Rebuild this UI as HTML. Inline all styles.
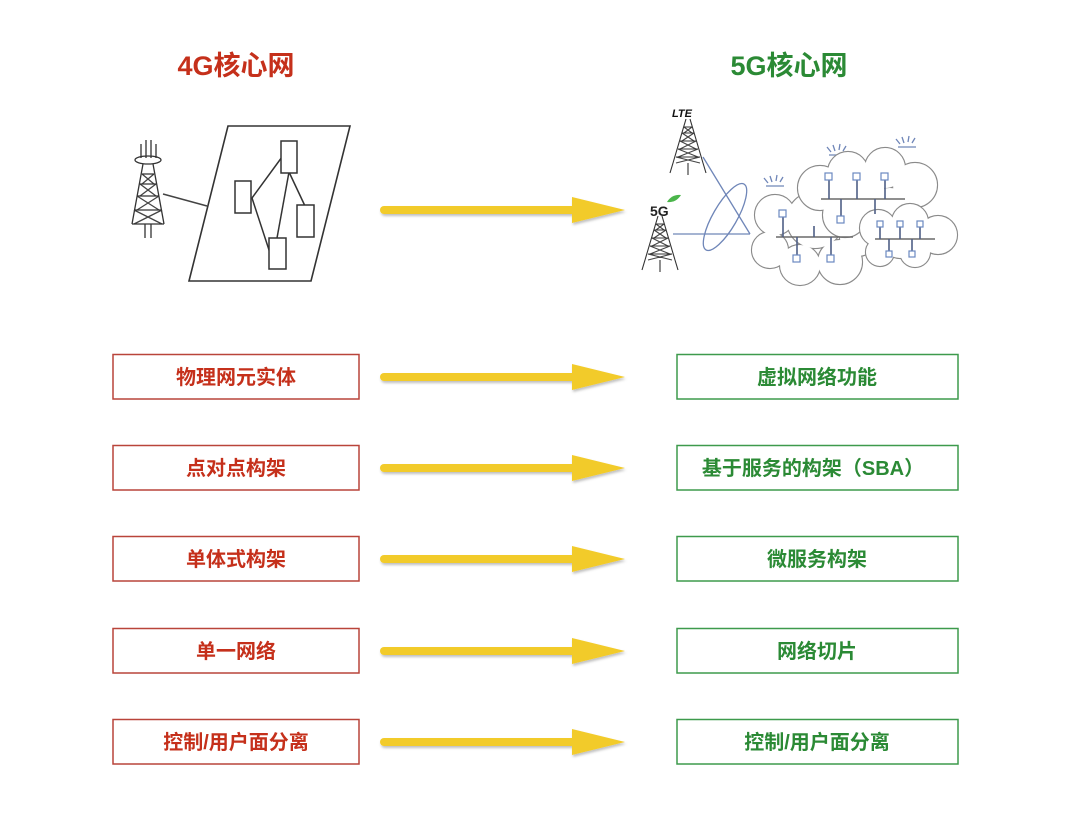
<!DOCTYPE html>
<html><head><meta charset="utf-8"><style>
html,body{margin:0;padding:0;background:#fff;}
svg{display:block;}
.t{font-family:"Liberation Sans","Noto Sans CJK SC",sans-serif;font-weight:bold;}
</style></head><body>
<svg width="1080" height="832" viewBox="0 0 1080 832" xmlns="http://www.w3.org/2000/svg">
<defs>
  <filter id="sh" x="-5%" y="-30%" width="110%" height="160%"><feDropShadow dx="1" dy="2" stdDeviation="1.2" flood-color="#000" flood-opacity="0.25"/></filter>
  <g id="arrow" filter="url(#sh)">
    <rect x="380" y="-4" width="196" height="8" rx="4" fill="#f2cb2c"/>
    <polygon points="572,-13 625,0 572,13" fill="#f2cb2c"/>
  </g>
  <g id="tower" stroke="#333" fill="none" stroke-width="1.3">
    <line x1="-7" y1="-22" x2="-7" y2="-8"/><line x1="-2" y1="-26" x2="-2" y2="-8"/><line x1="3" y1="-26" x2="3" y2="-8"/><line x1="8" y1="-22" x2="8" y2="-8"/>
    <ellipse cx="0" cy="-6" rx="13" ry="4"/>
    <path d="M-5,-2 L-16,58 M5,-2 L16,58 M-3,58 L-3,72 M3,58 L3,72"/>
    <path d="M-6,8 L6,18 M6,8 L-6,18 M-8,18 L8,30 M8,18 L-8,30 M-11,30 L11,44 M11,30 L-11,44 M-14,44 L14,58 M14,44 L-14,58" stroke="#444"/>
    <path d="M-6,8 H6 M-8,18 H8 M-11,30 H11 M-14,44 H14 M-16,58 H16"/>
  </g>
  <g id="tower2" stroke="#333" fill="none" stroke-width="1.1">
    <path d="M-2,0 L-15,44 M2,0 L15,44 M-15,44 L-18,54 M15,44 L18,54 M0,44 L0,56"/>
    <path d="M-4,8 L4,14 M4,8 L-4,14 M-6,14 L6,22 M6,14 L-6,22 M-8,22 L8,30 M8,22 L-8,30 M-10,30 L10,38 M10,30 L-10,38 M-12,38 L12,44 M12,38 L-12,44" stroke="#444"/>
    <path d="M-4,8 H4 M-6,14 H6 M-8,22 H8 M-10,30 H10 M-12,38 H12"/>
  </g>
</defs>

<text class="t" x="236" y="75" font-size="27" fill="#c5301b" text-anchor="middle">4G核心网</text>
<text class="t" x="789" y="75" font-size="27" fill="#2b8a35" text-anchor="middle">5G核心网</text>

<!-- 4G illustration -->
<use href="#tower" transform="translate(148,166)"/>
<line x1="163" y1="194" x2="207" y2="206" stroke="#444" stroke-width="1.5"/>
<polygon points="228,126 350,126 311,281 189,281" fill="none" stroke="#333" stroke-width="1.6"/>
<g stroke="#333" stroke-width="1.5" fill="#fff">
  <line x1="252" y1="198" x2="282" y2="157"/><line x1="252" y1="198" x2="270" y2="253"/>
  <line x1="289" y1="172" x2="277" y2="238"/><line x1="289" y1="172" x2="305" y2="206"/>
  <rect x="281" y="141" width="16" height="32"/>
  <rect x="235" y="181" width="16" height="32"/>
  <rect x="297" y="205" width="17" height="32"/>
  <rect x="269" y="238" width="17" height="31"/>
</g>

<!-- arrows -->
<use href="#arrow" transform="translate(0,210)"/>
<use href="#arrow" transform="translate(0,377)"/>
<use href="#arrow" transform="translate(0,468)"/>
<use href="#arrow" transform="translate(0,559)"/>
<use href="#arrow" transform="translate(0,651)"/>
<use href="#arrow" transform="translate(0,742)"/>

<!-- 5G illustration -->
<g stroke="#6f86b8" stroke-width="1.3" fill="none">
  <line x1="703" y1="157" x2="750" y2="234"/>
  <line x1="673" y1="234" x2="750" y2="234"/>
  <ellipse cx="725" cy="217" rx="12" ry="38" transform="rotate(30 725 217)"/>
  <path d="M768,183 l-4,-5 M772,182 l-2,-6 M776,181 l1,-6 M780,182 l3,-5 M766,186 h18"/>
  <path d="M831,152 l-4,-5 M835,151 l-2,-6 M839,150 l1,-6 M843,151 l3,-5 M829,155 h18"/>
  <path d="M900,144 l-4,-5 M904,143 l-2,-6 M908,142 l1,-6 M912,143 l3,-5 M898,147 h18"/>
</g>
<text x="672" y="117" font-family="Liberation Sans,sans-serif" font-weight="bold" font-style="italic" font-size="11" fill="#111">LTE</text>
<use href="#tower2" transform="translate(688,119)"/>
<text x="650" y="216" font-family="Liberation Sans,sans-serif" font-weight="bold" font-size="14" fill="#222">5G</text>
<path d="M667,202 q5,-8 14,-7 q-5,8 -14,7z" fill="#4bb54b"/>
<use href="#tower2" transform="translate(660,216)"/>
<!-- clouds -->
<g>
  <g fill="none" stroke="#8a8a8a" stroke-width="2.2">
    <circle cx="775" cy="215" r="20"/><circle cx="770" cy="250" r="18"/><circle cx="800" cy="265" r="20"/><circle cx="840" cy="262" r="22"/><circle cx="815" cy="220" r="28"/><circle cx="858" cy="238" r="18"/>
  </g>
  <g fill="#fff">
    <circle cx="775" cy="215" r="20"/><circle cx="770" cy="250" r="18"/><circle cx="800" cy="265" r="20"/><circle cx="840" cy="262" r="22"/><circle cx="815" cy="220" r="28"/><circle cx="858" cy="238" r="18"/>
  </g>
</g>
<g>
  <g fill="none" stroke="#8a8a8a" stroke-width="2.2">
    <circle cx="820" cy="188" r="22"/><circle cx="848" cy="172" r="20"/><circle cx="885" cy="168" r="20"/><circle cx="915" cy="185" r="22"/><circle cx="890" cy="210" r="22"/><circle cx="845" cy="215" r="22"/><circle cx="860" cy="195" r="25"/>
  </g>
  <g fill="#fff">
    <circle cx="820" cy="188" r="22"/><circle cx="848" cy="172" r="20"/><circle cx="885" cy="168" r="20"/><circle cx="915" cy="185" r="22"/><circle cx="890" cy="210" r="22"/><circle cx="845" cy="215" r="22"/><circle cx="860" cy="195" r="25"/>
  </g>
</g>
<g>
  <g fill="none" stroke="#8a8a8a" stroke-width="2.2">
    <circle cx="878" cy="228" r="18"/><circle cx="910" cy="222" r="18"/><circle cx="938" cy="235" r="19"/><circle cx="915" cy="252" r="15"/><circle cx="880" cy="252" r="14"/><circle cx="900" cy="240" r="18"/>
  </g>
  <g fill="#fff">
    <circle cx="878" cy="228" r="18"/><circle cx="910" cy="222" r="18"/><circle cx="938" cy="235" r="19"/><circle cx="915" cy="252" r="15"/><circle cx="880" cy="252" r="14"/><circle cx="900" cy="240" r="18"/>
  </g>
</g>
<!-- networks -->
<g stroke="#4f5f85" stroke-width="1.6" fill="#fff">
  <line x1="776" y1="237" x2="853" y2="237" stroke="#6a6a6a"/>
  <line x1="783" y1="217" x2="783" y2="237"/><line x1="814" y1="226" x2="814" y2="237"/>
  <line x1="797" y1="237" x2="797" y2="255"/><line x1="831" y1="237" x2="831" y2="255"/>
  <rect x="779" y="210" width="7" height="7" stroke="#6b88c0" stroke-width="1.2"/>
  <rect x="793" y="255" width="7" height="7" stroke="#6b88c0" stroke-width="1.2"/>
  <rect x="827" y="255" width="7" height="7" stroke="#6b88c0" stroke-width="1.2"/>
  <line x1="821" y1="199" x2="905" y2="199" stroke="#6a6a6a"/>
  <line x1="829" y1="180" x2="829" y2="199"/><line x1="857" y1="180" x2="857" y2="199"/><line x1="885" y1="180" x2="885" y2="199"/>
  <line x1="841" y1="199" x2="841" y2="216"/><line x1="875" y1="199" x2="875" y2="214"/>
  <rect x="825" y="173" width="7" height="7" stroke="#6b88c0" stroke-width="1.2"/>
  <rect x="853" y="173" width="7" height="7" stroke="#6b88c0" stroke-width="1.2"/>
  <rect x="881" y="173" width="7" height="7" stroke="#6b88c0" stroke-width="1.2"/>
  <rect x="837" y="216" width="7" height="7" stroke="#6b88c0" stroke-width="1.2"/>
  <line x1="875" y1="239" x2="935" y2="239" stroke="#6a6a6a"/>
  <line x1="880" y1="227" x2="880" y2="239"/><line x1="900" y1="227" x2="900" y2="239"/><line x1="920" y1="227" x2="920" y2="239"/>
  <line x1="889" y1="239" x2="889" y2="251"/><line x1="912" y1="239" x2="912" y2="251"/>
  <rect x="877" y="221" width="6" height="6" stroke="#6b88c0" stroke-width="1.2"/>
  <rect x="897" y="221" width="6" height="6" stroke="#6b88c0" stroke-width="1.2"/>
  <rect x="917" y="221" width="6" height="6" stroke="#6b88c0" stroke-width="1.2"/>
  <rect x="886" y="251" width="6" height="6" stroke="#6b88c0" stroke-width="1.2"/>
  <rect x="909" y="251" width="6" height="6" stroke="#6b88c0" stroke-width="1.2"/>
</g>

<!-- left boxes -->
<g fill="none" stroke="#b9443a" stroke-width="1.5">
  <rect x="113" y="354.5" width="246" height="44.5"/>
  <rect x="113" y="445.5" width="246" height="44.5"/>
  <rect x="113" y="536.5" width="246" height="44.5"/>
  <rect x="113" y="628.5" width="246" height="44.5"/>
  <rect x="113" y="719.5" width="246" height="44.5"/>
</g>
<g class="t" font-size="20" fill="#c5301b" text-anchor="middle">
  <text x="236" y="384">物理网元实体</text>
  <text x="236" y="475">点对点构架</text>
  <text x="236" y="566">单体式构架</text>
  <text x="236" y="658">单一网络</text>
  <text x="236" y="749">控制/用户面分离</text>
</g>
<!-- right boxes -->
<g fill="none" stroke="#3d9a4c" stroke-width="1.5">
  <rect x="677" y="354.5" width="281" height="44.5"/>
  <rect x="677" y="445.5" width="281" height="44.5"/>
  <rect x="677" y="536.5" width="281" height="44.5"/>
  <rect x="677" y="628.5" width="281" height="44.5"/>
  <rect x="677" y="719.5" width="281" height="44.5"/>
</g>
<g class="t" font-size="20" fill="#2b8a35" text-anchor="middle">
  <text x="817" y="384">虚拟网络功能</text>
  <text x="813" y="475">基于服务的构架（SBA）</text>
  <text x="817" y="566">微服务构架</text>
  <text x="817" y="658">网络切片</text>
  <text x="817" y="749">控制/用户面分离</text>
</g>
</svg>
</body></html>
